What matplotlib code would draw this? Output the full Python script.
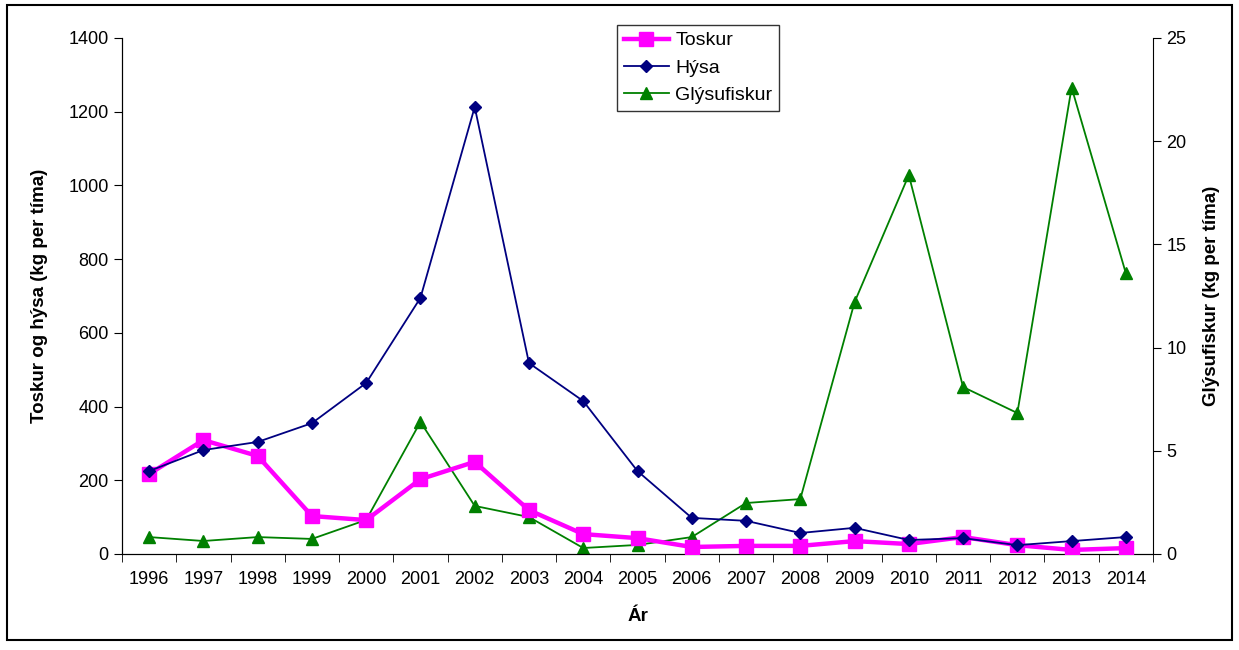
import matplotlib
matplotlib.use('Agg')
import matplotlib.pyplot as plt
from matplotlib.patches import Rectangle
import numpy as np

plt.rcParams['font.family'] = ['Liberation Sans', 'DejaVu Sans']

years = ['1996', '1997', '1998', '1999', '2000', '2001', '2002', '2003', '2004', '2005',
         '2006', '2007', '2008', '2009', '2010', '2011', '2012', '2013', '2014']
toskur = [217, 309, 266, 103, 92, 203, 250, 119, 54, 43, 19, 22, 22, 35, 27, 46, 24, 11, 16]
hysa = [225, 282, 304, 355, 464, 695, 1213, 518, 415, 225, 98, 90, 57, 71, 38, 43, 24, 35, 46]
glysufiskur = [0.82, 0.63, 0.82, 0.73, 1.65, 6.4, 2.33, 1.79, 0.29, 0.44, 0.82, 2.47, 2.66,
               12.2, 18.36, 8.09, 6.83, 22.6, 13.6]

x = np.arange(len(years))

fig = plt.figure(figsize=(12.39, 6.5), dpi=100)
ax = fig.add_axes([122 / 1239, 1 - 554 / 650, (1153 - 122) / 1239, (554 - 38) / 650])
ax2 = ax.twinx()

l1, = ax.plot(x, toskur, color='#FF00FF', lw=3.2, marker='s', ms=10, label='Toskur', zorder=3)
l2, = ax.plot(x, hysa, color='#000080', lw=1.3, marker='D', ms=6, label='Hýsa', zorder=4)
l3, = ax2.plot(x, glysufiskur, color='#008000', lw=1.3, marker='^', ms=9, label='Glýsufiskur')

ax.set_xlim(-0.5, len(years) - 0.5)
ax.set_ylim(0, 1400)
ax.set_yticks(range(0, 1401, 200))
ax2.set_ylim(0, 25)
ax2.set_yticks(range(0, 26, 5))

ax.set_xticks(x)
ax.set_xticklabels(years)
ax.set_xticks(np.arange(-0.5, len(years), 1), minor=True)
ax.tick_params(axis='x', which='major', length=0, pad=12, labelsize=13)
ax.tick_params(axis='x', which='minor', length=6, direction='out')
ax.tick_params(axis='y', length=6, direction='out', labelsize=13)
ax2.tick_params(axis='y', length=6, direction='out', labelsize=13)

for a in (ax, ax2):
    a.spines['top'].set_visible(False)
ax.spines['right'].set_visible(False)

ax.set_xlabel('Ár', fontweight='bold', fontsize=13.5)
ax.set_ylabel('Toskur og hýsa (kg per tíma)', fontweight='bold', fontsize=13.5)
ax2.set_ylabel('Glýsufiskur (kg per tíma)', fontweight='bold', fontsize=13.5)
ax.xaxis.set_label_coords(0.5, -0.105)
ax.yaxis.set_label_coords(-0.072, 0.5)
ax2.yaxis.set_label_coords(1.0485, 0.5)

ax.set_zorder(ax2.get_zorder() + 1)
ax.patch.set_visible(False)

leg = fig.legend(handles=[l1, l2, l3], loc='upper left',
                 bbox_to_anchor=(617 / 1239, 1 - 25 / 650), borderaxespad=0, fontsize=14,
                 frameon=True, fancybox=False, edgecolor='black', handlelength=2.3,
                 handletextpad=0.35, borderpad=0.35, labelspacing=0.5)
leg.get_frame().set_linewidth(1.0)

fig.patches.append(Rectangle((7 / 1239, 10 / 650), 1225 / 1239, 635 / 650,
                             transform=fig.transFigure, fill=False, edgecolor='black', lw=1.5))

fig.savefig('out.png', dpi=100)
